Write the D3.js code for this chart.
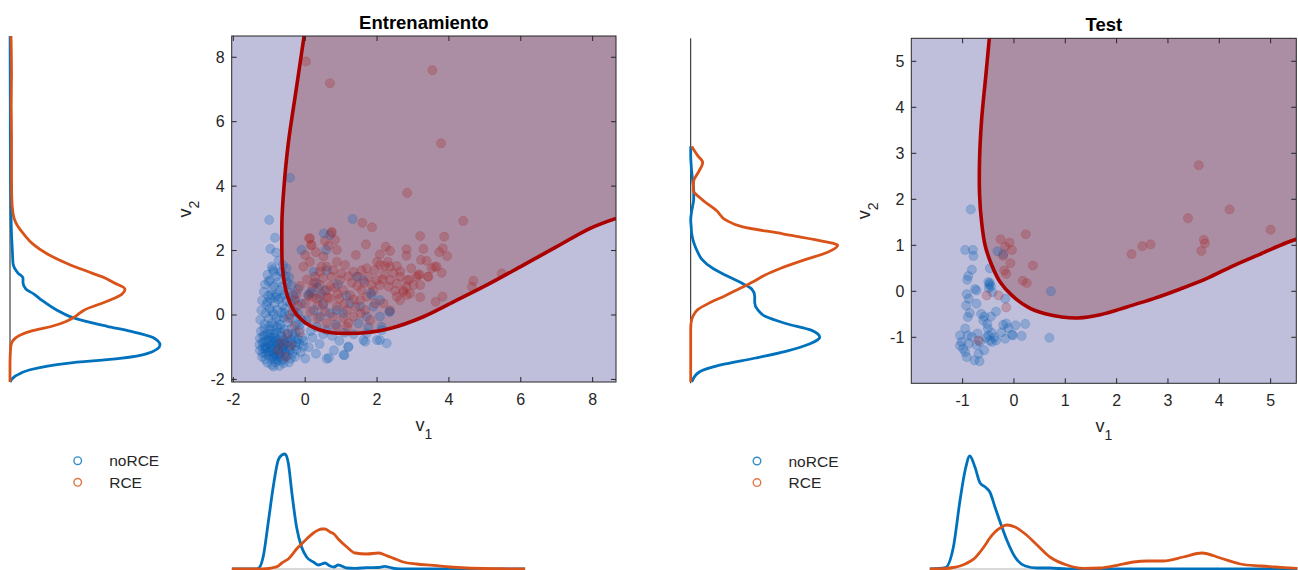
<!DOCTYPE html>
<html>
<head>
<meta charset="utf-8">
<script src="https://cdn.jsdelivr.net/npm/d3@7"></script>
<style>
  body { margin: 0; background: #fff; }
  svg text { font-family: "Liberation Sans", Arial, Helvetica, sans-serif; fill: #262626; }
</style>
</head>
<body>
<div id="chart"></div>
<script>
/* * * * * * * * * * * * * *
*           DATA           *
* * * * * * * * * * * * * */

// classes and colours
const classes = ['noRCE', 'RCE'];
const classColors = ['#0072BD', '#D95319'];

// tick labels
const v1TicksTrain = [-2, 0, 2, 4, 6, 8];
const v2TicksTrain = [-2, 0, 2, 4, 6, 8];
const v1TicksTest = [-1, 0, 1, 2, 3, 4, 5];
const v2TicksTest = [-1, 0, 1, 2, 3, 4, 5];

// decision boundary [v1, v2]
const boundaryTrain = [[-0.03,8.66],[-0.25,7.0],[-0.47,5.33],[-0.59,3.98],[-0.645,3.0],[-0.65,2.5],[-0.635,1.5],
    [-0.56,0.88],[-0.42,0.36],[-0.23,0.0],[0.0,-0.24],[0.37,-0.45],[0.74,-0.55],[1.2,-0.57],[1.67,-0.55],
    [2.36,-0.42],[3.29,-0.055],[4.22,0.46],[5.14,0.98],[6.07,1.55],[7.0,2.12],[7.93,2.69],[8.65,3.0]];
const boundaryTest = [[-0.48,5.5],[-0.55,4.67],[-0.63,3.73],[-0.67,2.87],[-0.67,2.1],[-0.63,1.5],[-0.56,0.99],
    [-0.43,0.56],[-0.27,0.2],[-0.04,-0.09],[0.28,-0.35],[0.61,-0.49],[0.93,-0.56],[1.25,-0.58],[1.68,-0.51],
    [2.2,-0.34],[2.72,-0.16],[3.24,0.05],[3.76,0.28],[4.28,0.56],[4.8,0.81],[5.32,1.06],[5.55,1.15]];

// training points [v1, v2]
const trainNoRCE = [
    [-0.42,4.26],[-1.0,2.95],[-0.84,2.4],[-0.97,2.05],[-0.81,1.94],[-0.93,1.5],[-0.74,1.68],[1.32,2.98],[0.52,2.53],
    [0.69,2.48],[0.58,2.02],[-0.1,2.02],[0.6,1.39],[0.23,1.34],[-1.02,1.04],[-0.88,1.35],[-0.7,1.35],[-0.62,1.55],[-0.55,1.2],
    [0.13,0.67],[0.18,0.72],[0.08,0.62],[0.41,0.57],[1.43,1.19],[1.62,1.08],[1.85,0.62],[2.08,0.46],[2.36,0.1],[1.9,0.26],
    [1.53,0.26],[1.25,0.36],[1.06,0.05],[0.88,0.15],[0.69,0.05],[1.71,-0.05],[2.08,-0.05],[2.13,-0.37],[1.76,-0.37],[1.48,-0.26],
    [0.41,-0.05],[0.23,0.15],[0.04,-0.16],[0.32,-0.37],[0.6,-0.47],[0.2,-0.7],[0.4,-0.9],[0.6,-1.36],[0.66,-1.33],[0.8,-1.1],
    [1.07,-1.24],[1.2,-0.98],[0.95,-0.8],[1.62,-0.78],[1.71,-0.57],[2.08,-0.78],[2.27,-0.88],[2.13,-0.47],[1.67,-0.83],[0.3,-1.2],
    [0.1,-1.0],[0.5,-0.6],[0.0,-1.35],[-0.05,-0.8],[0.75,-0.65],[-0.1,0.35],[-0.2,0.8],[0.3,1.0],[0.5,0.3],[0.35,0.85],
    [-0.15,-0.3],[0.15,-0.5],[0.85,-0.3],[1.1,-0.55],[1.35,-0.6],[0.55,0.75],[1.15,0.6],[0.9,0.95],[2.34,0.1],[1.82,0.68],
    [2.0,-0.78],[1.09,-1.25],[1.2,-1.0],
    [-1.05,1.25],[-0.9,1.42],[-0.8,1.2],[-0.66,1.32],[-0.52,1.45],[-0.45,1.18],
    [-1.12,0.95],[-0.98,1.08],[-0.87,0.9],[-0.76,1.02],[-0.64,0.88],[-0.5,1.0],[-0.38,0.92],
    [-1.15,0.72],[-1.03,0.6],[-0.92,0.78],[-0.8,0.64],[-0.7,0.75],[-0.58,0.62],[-0.46,0.7],[-0.33,0.6],
    [-1.2,0.45],[-1.08,0.32],[-0.96,0.5],[-0.85,0.36],[-0.74,0.48],[-0.63,0.3],[-0.52,0.44],[-0.4,0.35],[-0.28,0.5],
    [-1.22,0.15],[-1.1,0.05],[-0.99,0.2],[-0.88,0.02],[-0.78,0.16],[-0.66,0.08],[-0.55,0.2],[-0.43,0.0],[-0.3,0.12],[-0.2,0.05],
    [-1.25,-0.15],[-1.13,-0.28],[-1.02,-0.1],[-0.92,-0.25],[-0.8,-0.12],[-0.7,-0.3],[-0.6,-0.08],[-0.48,-0.22],[-0.36,-0.12],
    [-0.24,-0.28],[-0.1,-0.15],
    [-1.23,-0.5],[-1.14,-0.42],[-1.05,-0.58],[-0.96,-0.45],[-0.87,-0.6],[-0.78,-0.4],[-0.68,-0.55],[-0.58,-0.45],[-0.48,-0.58],
    [-0.38,-0.42],[-0.27,-0.55],[-0.15,-0.45],
    [-1.26,-0.72],[-1.17,-0.66],[-1.08,-0.78],[-1.0,-0.68],[-0.91,-0.8],[-0.83,-0.7],[-0.75,-0.78],[-0.66,-0.67],[-0.57,-0.8],
    [-0.48,-0.7],[-0.39,-0.78],[-0.3,-0.68],[-0.2,-0.75],[-0.08,-0.7],
    [-1.27,-0.92],[-1.19,-0.86],[-1.11,-0.98],[-1.03,-0.9],[-0.95,-1.0],[-0.87,-0.88],[-0.79,-0.96],[-0.71,-0.87],[-0.63,-1.0],
    [-0.55,-0.9],[-0.46,-0.98],[-0.37,-0.88],[-0.27,-0.96],[-0.16,-0.9],[-0.05,-0.98],
    [-1.26,-1.1],[-1.18,-1.18],[-1.1,-1.06],[-1.02,-1.15],[-0.94,-1.08],[-0.86,-1.2],[-0.78,-1.1],[-0.7,-1.17],[-0.62,-1.05],
    [-0.54,-1.15],[-0.45,-1.1],[-0.36,-1.2],[-0.25,-1.08],[-0.12,-1.15],
    [-1.2,-1.3],[-1.11,-1.38],[-1.02,-1.26],[-0.94,-1.35],[-0.85,-1.28],[-0.77,-1.4],[-0.68,-1.3],[-0.6,-1.37],[-0.5,-1.27],
    [-0.4,-1.35],[-0.28,-1.3],
    [-1.05,-1.48],[-0.93,-1.55],[-0.82,-1.46],[-0.72,-1.58],[-0.6,-1.5],[-0.45,-1.47],[-0.88,-1.6],
    [-0.95,-0.95],[-0.85,-1.05],[-0.75,-0.9],[-0.65,-1.12],[-0.9,-1.25],[-1.0,-0.8],[-0.8,-0.55],[-0.7,-1.0],[-1.1,-1.2],
    [-0.6,-0.75],[-0.55,-1.22],[-0.98,-0.6],[-0.88,-0.35],[-0.78,-1.3],[-1.15,-0.85],[-0.5,-0.85],[-0.68,-0.42],[-0.92,0.1],
    [-0.82,0.55],[-1.05,0.4],
    [-1.08,-1.02],[-0.97,-1.12],[-0.82,-0.82],[-0.73,-1.22],[-0.62,-0.92],[-1.13,-0.62],[-0.9,-0.7],[-1.18,-1.02],[-0.86,-1.36],
    [-0.66,-1.42],[-1.0,-0.35],[-0.72,-0.15],[-0.58,0.05],[-0.95,0.62],[-0.68,0.55],[-0.35,-0.6],[-0.25,-0.85],[-0.4,-1.05]
];
const trainRCE = [
    [0.02,7.87],[0.69,7.19],[3.54,7.6],[3.78,5.33],[2.84,3.79],[4.4,2.92],[1.59,2.86],[1.86,2.72],[3.2,2.45],[3.87,2.43],
    [3.83,2.07],[3.73,1.95],[3.95,1.83],[3.29,2.05],[3.22,1.71],[2.82,2.04],[2.82,1.84],[2.24,2.12],[2.36,1.99],[2.08,1.88],
    [1.69,2.19],[1.41,1.86],[0.73,2.55],[0.11,2.38],[0.16,2.17],[5.47,1.29],[4.68,1.06],[4.64,0.88],[3.82,0.57],[3.63,0.41],
    [3.2,0.55],[3.41,1.19],[3.61,1.5],[3.8,1.31],[3.38,1.68],[3.18,1.26],[3.1,1.19],[3.2,0.93],[2.82,0.88],[2.73,0.77],
    [2.55,0.98],[2.92,0.67],[2.64,0.46],[2.36,1.08],
    [2.08,1.55],[2.22,1.52],[2.36,1.5],[2.55,1.52],[1.94,1.39],[1.71,1.45],[1.57,1.39],[1.34,1.34],[1.48,1.19],[1.76,1.19],
    [1.99,1.08],[2.64,1.19],[2.83,1.08],[3.01,0.93],[3.15,1.24],[3.43,1.19],[3.52,1.45],[3.66,1.5],[2.73,0.72],[2.55,0.57],
    [2.83,0.62],[2.32,0.88],[2.08,0.93],[1.85,0.93],[1.57,0.77],[1.71,0.57],[1.53,0.46],[1.25,0.62],[1.06,0.77],[0.97,1.08],
    [0.74,1.19],[0.78,1.39],[0.6,1.5],[0.41,1.34],[0.27,1.19],[0.13,1.65],[-0.05,1.5],[0.88,1.65],[1.11,1.55],[1.0,1.29],
    [0.41,0.93],[0.6,0.77],[0.69,0.51],[0.32,0.51],[0.51,0.36],[0.88,0.26],[1.16,0.15],[0.78,-0.05],[1.06,-0.1],[1.34,-0.05],
    [1.67,0.15],[1.94,0.36],[2.18,0.36],[2.36,0.15],[1.81,-0.16],[1.16,-0.37],[0.88,-0.37],
    [0.74,2.58],[0.83,2.33],[0.88,2.02],[0.13,2.38],[0.18,2.17],[0.0,1.86],[0.51,1.81],[0.55,2.3],[0.3,1.95],[0.65,2.15],
    [0.2,0.85],[0.1,0.6],[0.0,0.35],[0.15,0.1],[0.35,-0.1],[0.55,0.1],[0.45,0.65],[0.25,1.0],[0.05,1.1],[-0.15,0.9],
    [-0.25,0.65],[-0.2,0.3],[-0.35,0.1],[-0.45,-0.1],[-0.3,-0.35],[-0.15,-0.55],[-0.5,-0.6],[-0.65,-0.85],[-0.4,-0.95],
    [-0.55,-1.3],[-0.75,-1.1],[-0.3,0.45],[0.6,-0.25],[0.95,0.5],[1.3,1.0],[1.1,0.35],[1.45,0.9],[1.9,0.75],[2.2,1.25],
    [2.45,1.3],[2.65,1.35],[2.95,1.45],[2.9,1.1],[1.2,-0.25],[1.55,0.05],[0.7,0.9],[0.5,1.15],[0.9,0.65],[1.4,0.25],
    [2.0,1.65],[2.3,1.65],
    [0.35,0.3],[0.62,0.55],[0.82,0.85],[1.2,1.2],[1.65,1.0],[2.15,1.1],[2.5,0.75],[1.35,0.48],[0.2,0.55],[0.45,1.5]
];

// test points [v1, v2]
const testNoRCE = [
    [-0.84,1.78],[-0.95,0.9],[-0.8,0.9],[-0.79,0.77],[-0.82,0.47],[-0.89,0.33],[-0.91,0.25],[-0.47,0.5],[-0.32,0.87],
    [-0.21,0.81],[-0.47,0.18],[-0.45,0.11],[-0.49,0.07],[-0.42,-0.02],[-0.76,0.05],[-0.73,0.02],[-0.92,-0.06],[-0.88,-0.16],
    [-0.73,-0.27],[-0.93,-0.31],[-0.86,-0.47],[-0.9,-0.56],[-0.64,-0.49],[-0.58,-0.55],[-0.52,-0.71],[-0.6,-0.63],[-0.35,-0.44],
    [-0.45,-0.55],[-0.17,-0.16],[-0.15,-0.7],[-0.21,-0.73],[-0.11,-0.8],[0.03,-0.74],[0.22,-0.71],[-0.02,-0.96],[0.15,-0.97],
    [-0.43,-0.9],[-0.38,-1.0],[-0.43,-1.1],[-0.35,-1.07],[-0.17,-1.03],[-0.04,-0.94],[-1.05,-0.96],[-1.02,-1.1],[-1.05,-1.18],
    [-0.99,-1.25],[-0.95,-1.32],[-0.88,-1.14],[-0.82,-0.99],[-0.71,-0.92],[-0.73,-1.17],[-0.66,-1.1],[-0.58,-1.28],[-0.69,-1.36],
    [-0.77,-1.5],[-0.67,-1.52],[-0.92,-1.43],[-0.9,-0.96],[-0.95,-0.81],[0.69,-1.01],[0.72,0.0],[-0.51,-0.81],[-0.24,-0.89],
    [-0.54,-1.01],[-0.5,-0.96],[-0.47,-1.07],[-0.5,0.2],[-0.48,0.15]
];
const testRCE = [
    [3.6,2.74],[4.2,1.78],[3.39,1.59],[5.0,1.34],[3.7,1.12],[3.72,1.04],[3.65,0.88],[2.66,1.02],[2.5,0.98],[2.29,0.81],
    [0.23,1.24],[-0.26,1.13],[-0.09,1.06],[-0.17,0.97],[-0.04,0.9],[-0.21,0.77],[-0.07,0.61],[0.37,0.56],[-0.19,0.45],
    [-0.15,0.38],[0.17,0.23],[0.25,0.18],[-0.15,-0.35],[-0.3,-0.09],[-0.53,-0.09],[-0.69,-1.07]
];

// marginal densities (relative height), v2 on the side, v1 underneath
const v2GridTrain = [-2.08,-1.9,-1.7,-1.5,-1.35,-1.2,-0.93,-0.7,-0.5,-0.35,-0.2,-0.05,0.15,0.45,0.65,0.8,1.0,1.15,1.3,1.6,
    1.9,2.2,2.5,2.85,3.15,3.7,4.5,5.5,6.5,7.5,8.66];
const v2DensTrainNo = [0,5,20,57,110,137,150,143,120,97,76,60,47,32,24,16,13,13,8,3,2.5,2,1.5,1.2,1,0.7,0.5,0.3,0.3,0.2,0.1];
const v2DensTrainRCE = [0,0,0,0,0.1,0.3,1,6,21,42,56,65,74,99,112,115,104,95,82,57,37,23,14,6,3,1.7,1.5,1.5,1.2,1.5,1];

const v1GridTrain = [-2.04,-1.4,-1.3,-1.17,-1.03,-0.89,-0.75,-0.65,-0.56,-0.47,-0.37,-0.24,-0.1,0.04,0.23,0.37,0.46,0.55,
    0.69,0.8,0.92,1.16,1.39,1.71,2.04,2.22,2.36,2.55,2.73,3.1,3.57,4.03,4.5,5.4,6.12];
const v1DensTrainNo = [0,0,0.7,12,46,82,109,114,115,106,76,42,22,12,7,4,5,6,3,2,4,1,0.7,1.3,1.5,2.7,1.5,0.3,0,0,0,0,0,0,0];
const v1DensTrainRCE = [0,0,0,0.2,0.5,1.3,3,6,8,10,14,20,25,30,36,39,40,40,37,35,30,22,16,15,16,14,12,9.5,7,5,3.7,2,1,0.3,0];

const v2GridTest = [-1.97,-1.75,-1.6,-1.45,-1.3,-1.15,-1.0,-0.85,-0.7,-0.55,-0.4,-0.25,-0.1,0.05,0.2,0.35,0.5,0.7,0.85,1.0,
    1.1,1.25,1.4,1.55,1.75,2.0,2.2,2.4,2.6,2.8,2.95,3.15];
const v2DensTestNo = [1,9,30,65,96,118,129,121,95,75,67,64,64,61,49,35,22,11,7,4,2.5,1,0.5,0,1,3,3,2,1,0.3,0,0];
const v2DensTestRCE = [0,0,0,0,0,0,0,0,0.3,2,7,19,34,48,62,74,90,116,137,147,129,92,52,35,26,11,2.5,3,8,12,7,1];

const v1GridTest = [-1.64,-1.34,-1.18,-1.05,-0.95,-0.86,-0.76,-0.66,-0.56,-0.47,-0.37,-0.27,-0.14,0.02,0.22,0.45,0.7,1.03,
    1.35,1.68,2.01,2.33,2.59,2.91,3.3,3.66,4.02,4.41,4.8,5.19,5.52];
const v1DensTestNo = [0,1.3,22,69,99,113,102,86,82,77,62,47,29,12,3,1,1,0,0,0,0,0,0,0,0,0,0,0,0,0,0];
const v1DensTestRCE = [0,0.5,1.5,3,5,7.5,11,17,24,31,37,41,44,42,35,24,12,4,0.7,1,3.7,7,8,8,12,16,11,5,3,1.7,0.7];

/* * * * * * * * * * * * * *
*           MAIN           *
* * * * * * * * * * * * * */

const width = 1298, height = 570;
const svg = d3.select('#chart').append('svg')
    .attr('width', width)
    .attr('height', height);
const defs = svg.append('defs');

const zip = (a, b) => a.map((v, i) => [v, b[i]]);

function drawPanel(p) {
    const box = p.box;
    const x = d3.scaleLinear().domain(p.xDomain).range([box.left, box.right]);
    const y = d3.scaleLinear().domain(p.yDomain).range([box.bottom, box.top]);

    defs.append('clipPath').attr('id', 'clip-' + p.id)
        .append('rect')
        .attr('x', box.left).attr('y', box.top)
        .attr('width', box.right - box.left).attr('height', box.bottom - box.top);

    const plot = svg.append('g').attr('clip-path', `url(#clip-${p.id})`);

    // background = noRCE region
    plot.append('rect')
        .attr('x', box.left).attr('y', box.top)
        .attr('width', box.right - box.left).attr('height', box.bottom - box.top)
        .attr('fill', '#bfbfdc');

    // RCE region, closed through the top right corner
    const bLine = d3.line().x(d => x(d[0])).y(d => y(d[1])).curve(d3.curveCatmullRom);
    const first = p.boundary[0], last = p.boundary[p.boundary.length - 1];
    const xr = x(p.xDomain[1]) + 20, yt = y(p.yDomain[1]) - 20;
    plot.append('path')
        .attr('d', bLine(p.boundary) + `L${xr},${y(last[1])}L${xr},${yt}L${x(first[0])},${yt}Z`)
        .attr('fill', '#ab8ea3');

    // points
    plot.append('g').selectAll('circle')
        .data(p.noRCE)
        .join('circle')
        .attr('cx', d => x(d[0]))
        .attr('cy', d => y(d[1]))
        .attr('r', 4.6)
        .attr('fill', '#0b5fb5')
        .attr('fill-opacity', 0.27)
        .attr('stroke', '#0b5fb5')
        .attr('stroke-opacity', 0.22)
        .attr('stroke-width', 0.8);
    plot.append('g').selectAll('circle')
        .data(p.rce)
        .join('circle')
        .attr('cx', d => x(d[0]))
        .attr('cy', d => y(d[1]))
        .attr('r', 4.6)
        .attr('fill', '#a82828')
        .attr('fill-opacity', 0.27)
        .attr('stroke', '#a82828')
        .attr('stroke-opacity', 0.22)
        .attr('stroke-width', 0.8);

    // boundary line
    plot.append('path')
        .attr('d', bLine(p.boundary))
        .attr('fill', 'none')
        .attr('stroke', '#aa0000')
        .attr('stroke-width', 3.6);

    // axes box + ticks (mirrored, inward)
    const ax = svg.append('g');
    ax.append('rect')
        .attr('x', box.left).attr('y', box.top)
        .attr('width', box.right - box.left).attr('height', box.bottom - box.top)
        .attr('fill', 'none').attr('stroke', '#262626').attr('stroke-width', 1);
    p.xTicks.forEach(t => {
        ax.append('line').attr('x1', x(t)).attr('x2', x(t)).attr('y1', box.bottom).attr('y2', box.bottom - 5)
            .attr('stroke', '#262626');
        ax.append('line').attr('x1', x(t)).attr('x2', x(t)).attr('y1', box.top).attr('y2', box.top + 5)
            .attr('stroke', '#262626');
        ax.append('text').attr('x', x(t)).attr('y', box.bottom + 23)
            .attr('text-anchor', 'middle').attr('font-size', 16).text(t);
    });
    p.yTicks.forEach(t => {
        ax.append('line').attr('x1', box.left).attr('x2', box.left + 5).attr('y1', y(t)).attr('y2', y(t))
            .attr('stroke', '#262626');
        ax.append('line').attr('x1', box.right).attr('x2', box.right - 5).attr('y1', y(t)).attr('y2', y(t))
            .attr('stroke', '#262626');
        ax.append('text').attr('x', box.left - 7).attr('y', y(t) + 5.5)
            .attr('text-anchor', 'end').attr('font-size', 16).text(t);
    });

    // title and axis labels
    const cx = (box.left + box.right) / 2;
    ax.append('text').attr('x', cx).attr('y', box.top - 7.5)
        .attr('text-anchor', 'middle').attr('font-size', 18.5).attr('font-weight', 'bold')
        .style('fill', '#000').text(p.title);
    const xl = ax.append('text').attr('x', cx).attr('y', box.bottom + 49)
        .attr('text-anchor', 'middle').attr('font-size', 18);
    xl.append('tspan').text('v');
    xl.append('tspan').attr('dy', 8).attr('font-size', 14).text('1');
    const yl = ax.append('text')
        .attr('transform', `translate(${box.left - 41},${(box.top + box.bottom) / 2}) rotate(-90)`)
        .attr('text-anchor', 'middle').attr('font-size', 18);
    yl.append('tspan').text('v');
    yl.append('tspan').attr('dy', 8).attr('font-size', 14).text('2');

    // side density of v2
    const dx = d3.scaleLinear().domain([0, 150]).range([p.sideBase, p.sideBase + 150]);
    svg.append('line')
        .attr('x1', p.sideBase).attr('x2', p.sideBase)
        .attr('y1', box.top).attr('y2', box.bottom)
        .attr('stroke', '#1a1a1a').attr('stroke-width', 1);
    const sideLine = d3.line().x(d => dx(d[1])).y(d => y(d[0])).curve(d3.curveMonotoneY);
    [p.v2No, p.v2RCE].forEach((dens, i) => {
        svg.append('path')
            .attr('d', sideLine(zip(p.v2Grid, dens)))
            .attr('fill', 'none')
            .attr('stroke', classColors[i])
            .attr('stroke-width', 2.8);
    });

    // bottom density of v1
    const dy = d3.scaleLinear().domain([0, 115]).range([569, 454]);
    svg.append('line')
        .attr('x1', x(p.v1Grid[0])).attr('x2', x(p.v1Grid[p.v1Grid.length - 1]))
        .attr('y1', 569).attr('y2', 569)
        .attr('stroke', '#b4b4b4').attr('stroke-width', 1);
    const botLine = d3.line().x(d => x(d[0])).y(d => dy(d[1])).curve(d3.curveMonotoneX);
    [p.v1No, p.v1RCE].forEach((dens, i) => {
        svg.append('path')
            .attr('d', botLine(zip(p.v1Grid, dens)))
            .attr('fill', 'none')
            .attr('stroke', classColors[i])
            .attr('stroke-width', 2.8);
    });

    // legend
    const lg = svg.append('g').attr('transform', `translate(${p.legend[0]},${p.legend[1]})`);
    classes.forEach((c, i) => {
        lg.append('circle').attr('cx', 0).attr('cy', i * 21.6).attr('r', 3.8)
            .attr('fill', 'none').attr('stroke', classColors[i]).attr('stroke-opacity', 0.8).attr('stroke-width', 1.4);
        lg.append('text').attr('x', 31.5).attr('y', i * 21.6 + 5.5).attr('font-size', 15.5).text(c);
    });
}

drawPanel({
    id: 'train', title: 'Entrenamiento',
    box: {left: 231.7, right: 616, top: 36, bottom: 382},
    xDomain: [-2.045, 8.65], yDomain: [-2.08, 8.66],
    xTicks: v1TicksTrain, yTicks: v2TicksTrain,
    boundary: boundaryTrain, noRCE: trainNoRCE, rce: trainRCE,
    sideBase: 10, v2Grid: v2GridTrain, v2No: v2DensTrainNo, v2RCE: v2DensTrainRCE,
    v1Grid: v1GridTrain, v1No: v1DensTrainNo, v1RCE: v1DensTrainRCE,
    legend: [77.7, 460.7]
});

drawPanel({
    id: 'test', title: 'Test',
    box: {left: 911.3, right: 1296.3, top: 38.3, bottom: 383.3},
    xDomain: [-2, 5.5], yDomain: [-2, 5.5],
    xTicks: v1TicksTest, yTicks: v2TicksTest,
    boundary: boundaryTest, noRCE: testNoRCE, rce: testRCE,
    sideBase: 690.7, v2Grid: v2GridTest, v2No: v2DensTestNo, v2RCE: v2DensTestRCE,
    v1Grid: v1GridTest, v1No: v1DensTestNo, v1RCE: v1DensTestRCE,
    legend: [757, 461]
});
</script>
</body>
</html>
